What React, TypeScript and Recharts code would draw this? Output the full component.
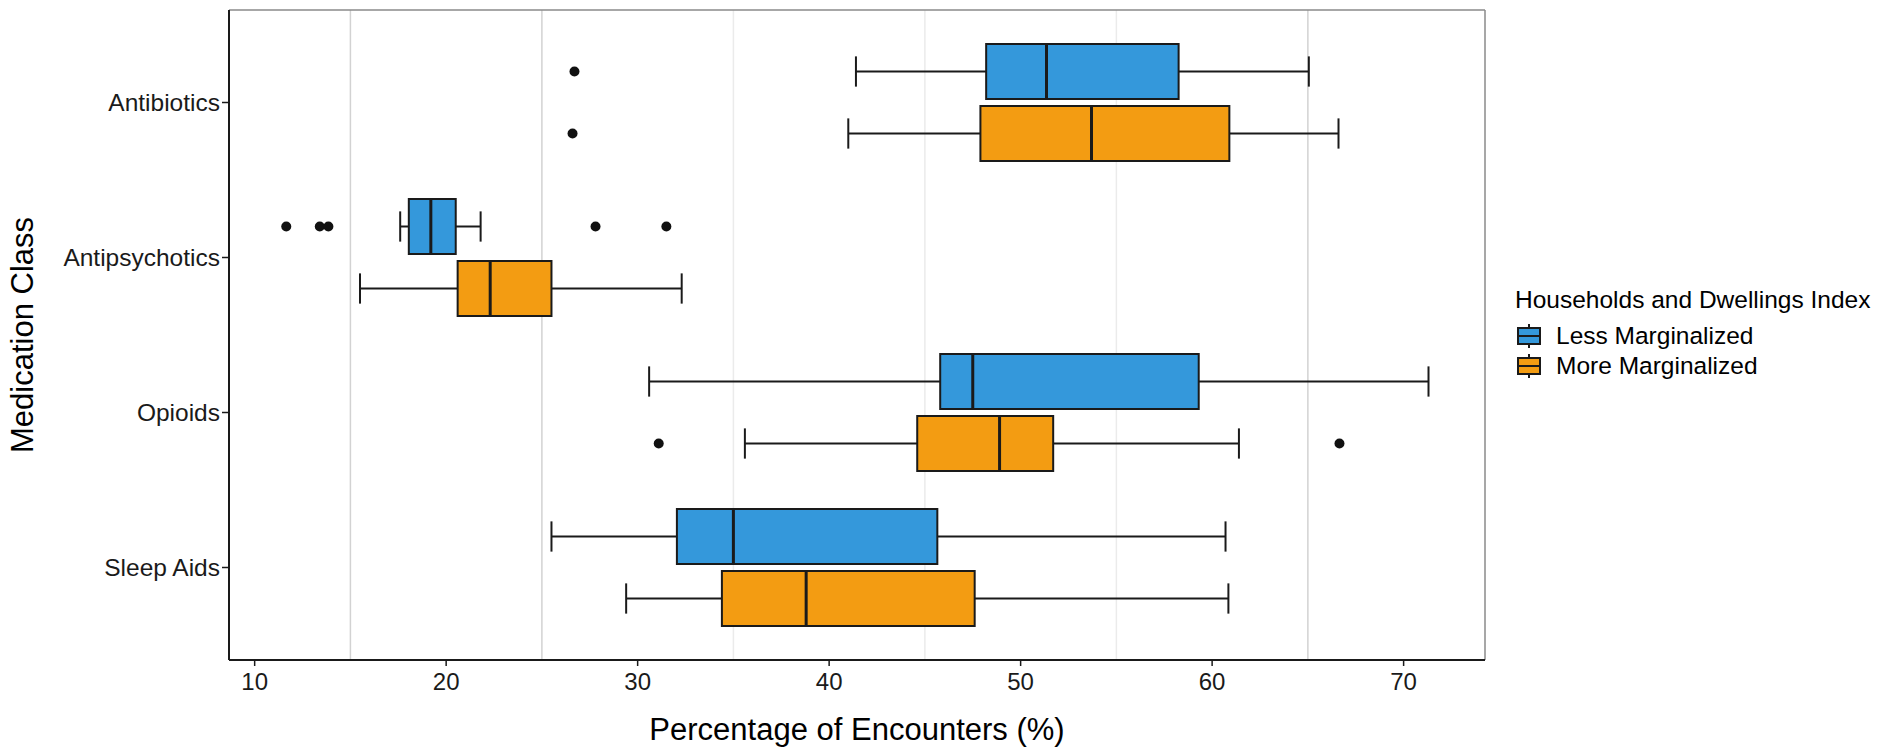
import {
  ComposedChart,
  Bar,
  Scatter,
  XAxis,
  YAxis,
  CartesianGrid,
  Legend,
  Label,
} from "recharts";

const classes = ["Antibiotics", "Antipsychotics", "Opioids", "Sleep Aids"];

// five-number summaries: [lower whisker, Q1, median, Q3, upper whisker]
const lessStats = [
  [41.4, 48.2, 51.35, 58.25, 65.05],
  [17.6, 18.05, 19.2, 20.5, 21.8],
  [30.6, 45.8, 47.5, 59.3, 71.3],
  [25.5, 32.05, 35.0, 45.65, 60.7],
];
const moreStats = [
  [41.0, 47.9, 53.7, 60.9, 66.6],
  [15.5, 20.6, 22.3, 25.5, 32.3],
  [35.6, 44.6, 48.9, 51.7, 61.4],
  [29.4, 34.4, 38.8, 47.6, 60.85],
];

const lessOutliers = [
  { cls: "Antibiotics", v: 26.7 },
  { cls: "Antipsychotics", v: 11.65 },
  { cls: "Antipsychotics", v: 13.4 },
  { cls: "Antipsychotics", v: 13.85 },
  { cls: "Antipsychotics", v: 27.8 },
  { cls: "Antipsychotics", v: 31.5 },
];
const moreOutliers = [
  { cls: "Antibiotics", v: 26.6 },
  { cls: "Opioids", v: 31.1 },
  { cls: "Opioids", v: 66.65 },
];

const xTicks = [10, 20, 30, 40, 50, 60, 70];
// minor grid lines; the outer ones print a little darker
const gridStrong = [15, 25, 65];
const gridFaint = [35, 45, 55];
const X_DOMAIN: [number, number] = [8.66, 74.25];

const BLUE = "#3498db";
const ORANGE = "#f39c12";
const INK = "#1a1a1a";
const FONT = "'Liberation Sans', Arial, Helvetica, sans-serif";
const BAR_SIZE = 55;
const BAR_GAP = 7;

const rows = classes.map((cls, i) => ({ cls, less: lessStats[i], more: moreStats[i] }));

// whisker-to-whisker range, used as the bar extent
const span = (key: "less" | "more") => (d: any) =>
  d && d[key] ? [d[key][0], d[key][4]] : undefined;

function BoxPlot(props: any) {
  const { x, y, width, height, fill, stats } = props;
  if (!stats) return null;
  const [lo, q1, med, q3, hi] = stats as number[];
  const px = (v: number) => x + ((v - lo) / (hi - lo)) * width;
  const cy = y + height / 2;
  const cap = height * 0.55;
  return (
    <g>
      <line x1={px(lo)} x2={px(q1)} y1={cy} y2={cy} stroke={INK} strokeWidth={2} />
      <line x1={px(q3)} x2={px(hi)} y1={cy} y2={cy} stroke={INK} strokeWidth={2} />
      <line x1={px(lo)} x2={px(lo)} y1={cy - cap / 2} y2={cy + cap / 2} stroke={INK} strokeWidth={2} />
      <line x1={px(hi)} x2={px(hi)} y1={cy - cap / 2} y2={cy + cap / 2} stroke={INK} strokeWidth={2} />
      <rect x={px(q1)} y={y} width={px(q3) - px(q1)} height={height} fill={fill} stroke={INK} strokeWidth={2} />
      <line x1={px(med)} x2={px(med)} y1={y} y2={y + height} stroke={INK} strokeWidth={3} />
    </g>
  );
}

// outliers sit on the dodged position of their group
const outlierDot = (shift: number) => (p: any) =>
  p.cx == null || p.cy == null ? <g /> : <circle cx={p.cx} cy={p.cy + shift} r={5} fill="#111" />;

const renderLegend = (props: any) => {
  const items = (props.payload ?? []).filter((p: any) => p.type !== "none");
  return (
    <div style={{ fontFamily: FONT, color: "#000", fontSize: 24.5 }}>
      <div style={{ lineHeight: "30px", whiteSpace: "nowrap" }}>Households and Dwellings Index</div>
      <div style={{ marginTop: 6 }}>
        {items.map((item: any) => (
          <div key={item.value} style={{ display: "flex", alignItems: "center", height: 30 }}>
            <svg width={41} height={30}>
              <line x1={14} x2={14} y1={3} y2={27} stroke={INK} strokeWidth={2} />
              <rect x={3} y={7} width={22} height={16} fill={item.color} stroke={INK} strokeWidth={2} />
              <line x1={3} x2={25} y1={15} y2={15} stroke={INK} strokeWidth={2} />
            </svg>
            <span style={{ whiteSpace: "nowrap" }}>{item.value}</span>
          </div>
        ))}
      </div>
    </div>
  );
};

export default function App() {
  return (
    <div style={{ position: "absolute", left: 0, top: 0, background: "#fff", fontFamily: FONT }}>
      <ComposedChart
        width={1890}
        height={756}
        data={rows}
        layout="vertical"
        margin={{ top: 10, right: 405, bottom: 0, left: 0 }}
        barSize={BAR_SIZE}
        barGap={BAR_GAP}
      >
        <CartesianGrid horizontal={false} verticalValues={gridStrong} stroke="#d2d2d2" strokeWidth={1.5} />
        <CartesianGrid horizontal={false} verticalValues={gridFaint} stroke="#ebebeb" strokeWidth={1.5} />
        {/* panel border on the top and right edges */}
        <CartesianGrid
          horizontalCoordinatesGenerator={({ offset }: any) => [offset.top]}
          verticalCoordinatesGenerator={({ offset }: any) => [offset.left + offset.width]}
          stroke="#8a8a8a"
          strokeWidth={1.5}
        />
        <XAxis
          type="number"
          domain={X_DOMAIN}
          allowDataOverflow
          ticks={xTicks}
          height={96}
          tickSize={6}
          tickMargin={7}
          tick={{ fill: INK, fontSize: 24 }}
          tickLine={{ stroke: INK, strokeWidth: 1.5 }}
          axisLine={{ stroke: INK, strokeWidth: 2 }}
        >
          <Label
            content={({ viewBox }: any) => (
              <text
                x={viewBox.x + viewBox.width / 2}
                y={viewBox.y + 80}
                textAnchor="middle"
                fontSize={31}
                fill="#000"
              >
                Percentage of Encounters (%)
              </text>
            )}
          />
        </XAxis>
        <YAxis
          type="category"
          dataKey="cls"
          allowDuplicatedCategory={false}
          width={229}
          padding={{ top: 15, bottom: 15 }}
          tickSize={7}
          tickMargin={2}
          tick={{ fill: INK, fontSize: 24.5 }}
          tickLine={{ stroke: INK, strokeWidth: 1.5 }}
          axisLine={{ stroke: INK, strokeWidth: 2 }}
        >
          <Label
            content={({ viewBox }: any) => {
              const lx = viewBox.x + 33;
              const ly = viewBox.y + viewBox.height / 2;
              return (
                <text
                  x={lx}
                  y={ly}
                  transform={`rotate(-90 ${lx} ${ly})`}
                  textAnchor="middle"
                  fontSize={31}
                  fill="#000"
                >
                  Medication Class
                </text>
              );
            }}
          />
        </YAxis>
        <Bar
          name="Less Marginalized"
          dataKey={span("less")}
          fill={BLUE}
          isAnimationActive={false}
          shape={(p: any) => <BoxPlot {...p} stats={p.payload?.less} />}
        />
        <Bar
          name="More Marginalized"
          dataKey={span("more")}
          fill={ORANGE}
          isAnimationActive={false}
          shape={(p: any) => <BoxPlot {...p} stats={p.payload?.more} />}
        />
        <Scatter
          data={lessOutliers}
          dataKey="v"
          legendType="none"
          isAnimationActive={false}
          shape={outlierDot(-(BAR_SIZE + BAR_GAP) / 2)}
        />
        <Scatter
          data={moreOutliers}
          dataKey="v"
          legendType="none"
          isAnimationActive={false}
          shape={outlierDot((BAR_SIZE + BAR_GAP) / 2)}
        />
        <Legend
          layout="horizontal"
          verticalAlign="middle"
          align="center"
          content={renderLegend}
          wrapperStyle={{ position: "absolute", left: 1515, top: 285, width: 375 }}
        />
      </ComposedChart>
    </div>
  );
}
